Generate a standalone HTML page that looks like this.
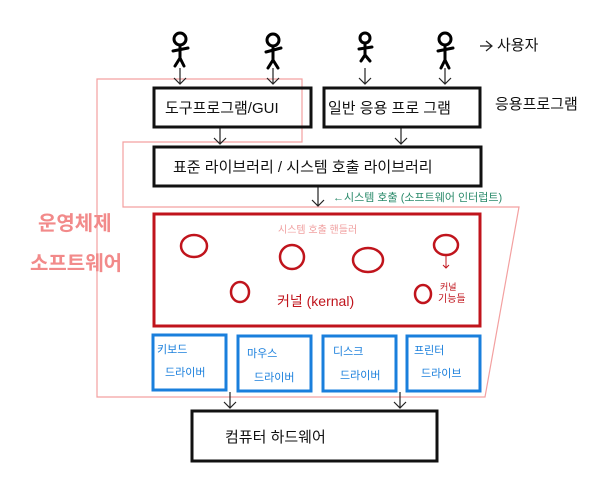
<!DOCTYPE html>
<html><head><meta charset="utf-8"><style>
body{margin:0;background:#fff;}
svg text{font-family:"Liberation Sans","Noto Sans CJK KR",sans-serif;}
</style></head><body>
<svg width="600" height="474" viewBox="0 0 600 474" xmlns="http://www.w3.org/2000/svg">
<rect width="600" height="474" fill="#fff"/>
<polygon points="97,79 302,79 302,142 123,142 123,207 519,207 485,397 97,397" fill="none" stroke="#f3a0a0" stroke-width="1.2"/>
<g stroke="#000" stroke-width="3" fill="none" stroke-linecap="round">
 <g transform="translate(180,0)"><circle cx="0" cy="39" r="6"/><path d="M0 45 V58 M-7 51 L8 48 M0 58 L-5 66 M0 58 L4 66"/></g>
 <g transform="translate(273,0)"><circle cx="0" cy="40" r="6"/><path d="M0 46 V60 M-7 52 L8 48 M0 60 L-5 68 M0 60 L5 68"/></g>
 <g transform="translate(365,0)"><circle cx="0" cy="38" r="5"/><path d="M0 43 V55 M-6 49 L7 47 M0 55 L-4 61 M0 55 L5 61"/></g>
 <g transform="translate(445,0)"><circle cx="0" cy="39" r="6"/><path d="M0 45 V60 M-7 51 L8 48 M0 60 L-4 68 M0 60 L4 68"/></g>
</g>
<g stroke="#222" stroke-width="1.2" fill="none">
 <path d="M180 68 V84 M174 78 L180 84 L186 78"/>
 <path d="M273 68 V84 M267 78 L273 84 L279 78"/>
 <path d="M365 68 V84 M359 78 L365 84 L371 78"/>
 <path d="M445 68 V84 M439 78 L445 84 L451 78"/>
 <path d="M220 128 V144 M214 138 L220 144 L226 138"/>
 <path d="M401 128 V144 M395 138 L401 144 L407 138"/>
 <path d="M318 187 V206 M312 200 L318 206 L324 200"/>
 <path d="M230 392 V408 M224 402 L230 408 L236 402"/>
 <path d="M400 392 V408 M394 402 L400 408 L406 402"/>
 <path d="M480 46 H492 M486 41 L492 46 L486 51"/>
</g>
<g fill="none" stroke="#111" stroke-width="3">
 <rect x="154" y="88" width="157" height="39"/>
 <rect x="324" y="88" width="156" height="39"/>
 <rect x="154" y="147" width="327" height="39"/>
 <rect x="192" y="411" width="245" height="50"/>
</g>
<rect x="154" y="214" width="326" height="112" fill="none" stroke="#c0141c" stroke-width="3"/>
<g fill="none" stroke="#1a7fdc" stroke-width="3">
 <rect x="153" y="335" width="73" height="55"/>
 <rect x="238" y="336" width="73" height="55"/>
 <rect x="323" y="336" width="73" height="55"/>
 <rect x="407" y="336" width="73" height="55"/>
</g>
<g fill="none" stroke="#c0141c" stroke-width="2.5">
 <ellipse cx="194" cy="246" rx="13" ry="11"/>
 <ellipse cx="292" cy="257" rx="12" ry="12"/>
 <ellipse cx="368" cy="260" rx="15" ry="12"/>
 <ellipse cx="446" cy="245" rx="12" ry="10"/>
 <ellipse cx="240" cy="292" rx="9" ry="10"/>
 <ellipse cx="423" cy="294" rx="8" ry="9"/>
</g>
<path d="M446 256 V268 M443 265 L446 268 L449 265" stroke="#c0141c" stroke-width="1" fill="none"/>
<g font-size="15" fill="#111">
 <text x="165" y="113">도구프로그램/GUI</text>
 <text x="328" y="113">일반 응용 프로 그램</text>
 <text x="173" y="172">표준 라이브러리  / 시스템 호출 라이브러리</text>
 <text x="225" y="442">컴퓨터  하드웨어</text>
 <text x="497" y="50">사용자</text>
 <text x="495" y="109">응용프로그램</text>
</g>
<text x="333" y="201" font-size="11" fill="#2a8a6a">←시스템 호출 (소프트웨어 인터럽트)</text>
<text x="278" y="233" font-size="10" fill="#f0a0a0">시스템 호출 핸들러</text>
<text x="277" y="306" font-size="14" fill="#c0141c">커널 (kernal)</text>
<text x="440" y="290" font-size="9" fill="#c0141c">커널</text>
<text x="438" y="302" font-size="10" fill="#c0141c">기능들</text>
<g font-size="20" font-weight="bold" fill="#f28a8a">
 <text x="38" y="230">운영체제</text>
 <text x="30" y="270">소프트웨어</text>
</g>
<g font-size="11" fill="#1a7fdc">
 <text x="157" y="353">키보드</text><text x="165" y="376">드라이버</text>
 <text x="247" y="357">마우스</text><text x="254" y="381">드라이버</text>
 <text x="333" y="355">디스크</text><text x="340" y="379">드라이버</text>
 <text x="414" y="354">프린터</text><text x="421" y="377">드라이브</text>
</g>
</svg>
</body></html>
